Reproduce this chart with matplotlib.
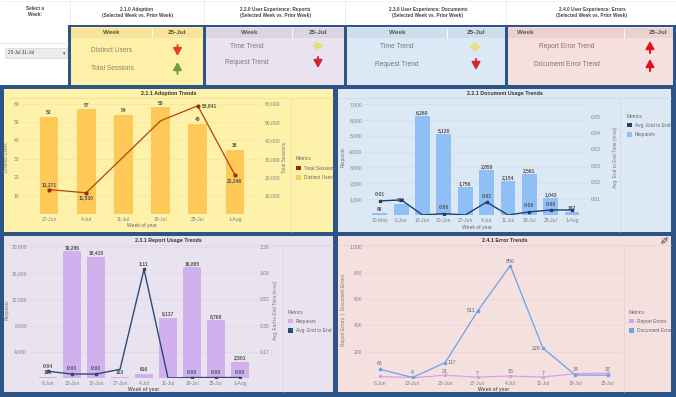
import matplotlib.pyplot as plt
from matplotlib.patches import Rectangle
from matplotlib.ticker import MultipleLocator, FuncFormatter

plt.rcParams['font.family'] = ['Liberation Sans', 'DejaVu Sans']

W, H = 676, 397

# 2.1.1 Adoption Trends
adopt_weeks = ['27-Jun', '4-Jul', '11-Jul', '18-Jul', '25-Jul', '1-Aug']
distinct_users = [53, 57, 54, 58, 49, 35]
total_sessions = [13271, 11530, 31100, 50700, 58841, 21246]
sessions_shown = [True, True, False, False, True, True]

# 2.2.1 Document Usage Trends (time in seconds)
doc_weeks = ['30-May', '6-Jun', '13-Jun', '20-Jun', '27-Jun', '4-Jul', '11-Jul',
             '18-Jul', '25-Jul', '1-Aug']
doc_requests = [98, 720, 6260, 5120, 1756, 2850, 2154, 2561, 1043, 182]
doc_time = [0.73, 0.78, 0.0, 0.07, 0.0, 0.67, 0.0, 0.16, 0.26, 0.26]
doc_time_shown = [True, False, False, True, False, True, False, True, True, False]

# 2.3.1 Report Usage Trends (time in seconds)
rep_weeks = ['6-Jun', '13-Jun', '20-Jun', '27-Jun', '4-Jul', '11-Jul', '18-Jul',
             '25-Jul', '1-Aug']
rep_requests = [180, 19286, 18415, 163, 616, 9137, 16865, 8768, 2501]
rep_time = [4.4, 2.6, 2.6, 5.7, 71.4, 0.0, 0.3, 0.3, 0.3]
rep_time_shown = [True, True, True, False, True, False, True, True, True]

# 2.4.1 Error Trends
err_weeks = ['6-Jun', '13-Jun', '20-Jun', '27-Jun', '4-Jul', '11-Jul', '18-Jul', '25-Jul']
report_errors = [12, 2, 21, 7, 15, 7, 34, 37]
document_errors = [66, 4, 117, 511, 856, 228, 22, 22]
report_shown = [False, False, True, True, True, True, True, True]
document_shown = [True, True, True, True, True, True, False, False]

NAVY = '#2d5487'
TXT = '#666666'


def mss(v, pos=None):
    s = int(v + 0.5)
    return f'{s // 60}:{s % 60:02d}'


fig = plt.figure(figsize=(W / 100, H / 100), dpi=100)
bg = fig.add_axes([0, 0, 1, 1])
bg.set_xlim(0, W)
bg.set_ylim(H, 0)
bg.axis('off')


def rect(x0, y0, x1, y1, fc, ec='none', lw=0, z=1):
    bg.add_patch(Rectangle((x0, y0), x1 - x0, y1 - y0, facecolor=fc,
                           edgecolor=ec, linewidth=lw, zorder=z))


def line(xs, ys, c, lw=0.5, z=2):
    bg.plot(xs, ys, color=c, lw=lw, zorder=z, solid_capstyle='butt')


def txt(x, y, s, size=3.6, c=TXT, **kw):
    bg.text(x, y, s, fontsize=size, color=c, va='center', zorder=5, **kw)


def arrow(x0, y0, x1, y1, c, lw=1.4, head='-|>,head_length=0.45,head_width=0.25'):
    bg.annotate('', xy=(x1, y1), xytext=(x0, y0), zorder=6,
                arrowprops=dict(arrowstyle=head, color=c, lw=lw, shrinkA=0, shrinkB=0))


def px_axes(x0, y0, x1, y1):
    return fig.add_axes([x0 / W, 1 - y1 / H, (x1 - x0) / W, (y1 - y0) / H])


def style(ax, gridc):
    ax.set_facecolor('none')
    for s in ax.spines.values():
        s.set_visible(False)
    ax.tick_params(length=0, labelsize=3.6, colors='#808080', pad=2)
    ax.grid(axis='y', color=gridc, lw=0.4)
    ax.set_axisbelow(True)


# ---- header row ----
for x in [70, 204, 345, 506]:
    line([x, x], [0, 24], '#e4e4e4')
line([0, 68], [43, 43], '#dddddd')
line([0, W], [1, 1], '#eeeeee')
headers = [(35, 'Select a', 'Week:'),
           (137, '2.1.0 Adoption', '(Selected Week vs. Prior Week)'),
           (275, '2.2.0 User Experience: Reports', '(Selected Week vs. Prior Week)'),
           (428, '2.3.0 User Experience: Documents', '(Selected Week vs. Prior Week)'),
           (592, '2.4.0 User Experience: Errors', '(Selected Week vs. Prior Week)')]
for x, a, b in headers:
    txt(x, 9, a, 3.4, '#444444', ha='center', fontweight='bold')
    txt(x, 15, b, 3.4, '#444444', ha='center', fontweight='bold')

rect(5, 48, 67, 58, '#ececec', '#cccccc', 0.4)
txt(8, 53, '25-Jul 31-Jul', 3.3, '#444444')
txt(64, 53.5, '▾', 3.3, '#444444', ha='center')

# ---- navy frames ----
rect(68, 25, W, 88, NAVY)
rect(0, 85, W, H, NAVY)

# ---- KPI boxes ----
kpis = [
    (71, 203, 152, '#fef0a8', '#f7e39a', '#8c8466',
     [('Distinct Users', 112, 50, 'down', '#e8401c'),
      ('Total Sessions', 112, 68, 'up', '#6e9b3c')], 'center'),
    (206, 344, 292, '#e8e3ef', '#dbd5e3', '#7a7a80',
     [('Time Trend', 247, 46, 'right', '#e6e07a'),
      ('Request Trend', 247, 62, 'down', '#d22630')], 'center'),
    (347, 505, 447, '#dce8f6', '#cfdcec', '#6f7a88',
     [('Time Trend', 397, 47, 'right', '#e6e07a'),
      ('Request Trend', 397, 64, 'down', '#d22630')], 'center'),
    (508, 673, 624, '#f6dfdf', '#edd1d1', '#8a6f70',
     [('Report Error Trend', 567, 47, 'up', '#e0101e'),
      ('Document Error Trend', 567, 65, 'up', '#e0101e')], 'left'),
]
for x0, x1, xd, fc, hc, tc, rows, mode in kpis:
    rect(x0, 27, x1, 85, fc, z=1)
    rect(x0, 28, x1, 38, hc, z=1)
    line([xd, xd], [28, 38], '#ffffff', 0.6)
    ax_ = (x1 + xd) / 2
    if mode == 'center':
        txt((x0 + xd) / 2, 33, 'Week', 4.6, '#555555', ha='center', fontweight='bold')
        txt(ax_, 33, '25-Jul', 4.6, '#555555', ha='center', fontweight='bold')
    else:
        txt(x0 + 9, 33, 'Week', 4.6, '#555555', ha='left', fontweight='bold')
        txt(x1 - 6, 33, '25-Jul', 4.6, '#555555', ha='right', fontweight='bold')
        ax_ = 650
    for label, lx, ly, d, c in rows:
        txt(lx, ly, label, 4.8, tc, ha='center')
        if d == 'down':
            arrow(ax_, ly - 5, ax_, ly + 6, c)
        elif d == 'up':
            arrow(ax_, ly + 6, ax_, ly - 6, c)
        else:
            arrow(ax_ - 5, ly, ax_ + 6, ly, c)

# ---- chart panels ----
panels = [
    (4, 89, 333, 232, '#fef1aa', '#f3e39a', '2.1.1 Adoption Trends', 291),
    (338, 89, 671, 232, '#dde8f5', '#cfdcec', '2.2.1 Document Usage Trends', 620),
    (4, 236, 333, 392, '#e9e3f0', '#dcd5e5', '2.3.1 Report Usage Trends', 283),
    (338, 236, 671, 392, '#f5e0e0', '#ead0d0', '2.4.1 Error Trends', 624),
]
for x0, y0, x1, y1, fc, lc, title, xdiv in panels:
    rect(x0, y0, x1, y1, fc)
    line([x0, x1], [y0 + 9, y0 + 9], lc, 0.6)
    line([xdiv, xdiv], [y0 + 9, y1], lc, 0.6)
    txt((x0 + x1) / 2, y0 + 4.5, title, 3.8, '#333333', ha='center', fontweight='bold')

# expand icon (no installed font has the glyph)
small = '-|>,head_length=0.25,head_width=0.15'
arrow(665, 240, 668, 237, '#888888', 0.5, small)
arrow(664, 241, 661, 244, '#888888', 0.5, small)


def legend(x, y, items):
    txt(x, y, 'Metrics', 3.5, '#666666')
    for i, (label, c) in enumerate(items):
        yy = y + 9 + i * 9.5
        rect(x, yy - 2.3, x + 4.6, yy + 2.3, c, z=5)
        txt(x + 8, yy, label, 3.5, '#666666')


def bar_labels(ax, vals, dy):
    for i, v in enumerate(vals):
        ax.text(i, v + dy, f'{v:,}', ha='center', va='bottom', fontsize=3.6,
                fontweight='bold', color='#555555')


# ---- 2.1.1 Adoption Trends ----
ax = px_axes(22, 100, 262, 214)
style(ax, '#f3e39a')
x = range(len(adopt_weeks))
ax.bar(x, distinct_users, width=0.5, color='#fec957', zorder=2)
bar_labels(ax, distinct_users, 0.8)
ax.set_xlim(-0.73, 5.73)
ax.set_ylim(0, 62)
ax.set_yticks([10, 20, 30, 40, 50, 60])
ax.set_xticks(list(x))
ax.set_xticklabels(adopt_weeks)
ax.axhline(0, color='#e8d890', lw=0.6)
ax2 = ax.twinx()
style(ax2, 'none')
ax2.grid(False)
ax2.plot(x, total_sessions, color='#b5420f', lw=0.9, zorder=3)
ax2.plot([i for i in x if sessions_shown[i]],
         [v for v, s in zip(total_sessions, sessions_shown) if s],
         'o', color='#9c2a08', ms=2, zorder=4)
ax2.set_ylim(0, 62000)
ax2.set_yticks([10000, 20000, 30000, 40000, 50000, 60000])
ax2.yaxis.set_major_formatter(FuncFormatter(lambda v, p: f'{int(v):,}'))
offs = {0: (0, 1200, 'center', 'bottom'), 1: (0, -1500, 'center', 'top'),
        4: (0.1, 0, 'left', 'center'), 5: (0, -1500, 'center', 'top')}
for i, (dx, dy, ha, va) in offs.items():
    if sessions_shown[i]:
        ax2.text(i + dx, total_sessions[i] + dy, f'{total_sessions[i]:,}', ha=ha,
                 va=va, fontsize=3.6, fontweight='bold', color='#555555')
txt(7, 157, 'Distinct Users', 3.4, '#777777', ha='center', rotation=90)
txt(285, 157, 'Total Sessions', 3.4, '#777777', ha='center', rotation=90)
txt(142, 226, 'Week of year', 3.6, '#666666', ha='center')
legend(296, 159, [('Total Sessions', '#9c2a08'), ('Distinct Users', '#fec957')])

# ---- 2.2.1 Document Usage Trends ----
ax = px_axes(365, 100, 588, 215)
style(ax, '#cfdcec')
x = range(len(doc_weeks))
ax.bar(x, doc_requests, width=0.7, color='#8ec0f5', zorder=2)
bar_labels(ax, doc_requests, 60)
ax.set_xlim(-0.7, 9.75)
ax.set_ylim(0, 7250)
ax.set_yticks(range(1000, 8000, 1000))
ax.yaxis.set_major_formatter(FuncFormatter(lambda v, p: f'{int(v):,}'))
ax.set_xticks(list(x))
ax.set_xticklabels(doc_weeks)
ax2 = ax.twinx()
style(ax2, 'none')
ax2.grid(False)
ax2.plot(x, doc_time, color='#1f3f6e', lw=1.0, zorder=3)
ax2.plot([i for i in x if doc_time[i] > 0], [v for v in doc_time if v > 0],
         's', color='#1f3f6e', ms=1.8, zorder=4)
ax2.set_ylim(0, 5.96)
ax2.set_yticks([0.85 * k for k in range(1, 7)])
ax2.yaxis.set_major_formatter(FuncFormatter(mss))
for i, v in enumerate(doc_time):
    if doc_time_shown[i]:
        ax2.text(i, v + 0.18, mss(v), ha='center', va='bottom', fontsize=3.6,
                 fontweight='bold', color='#555555')
txt(343, 157, 'Requests', 3.4, '#777777', ha='center', rotation=90)
txt(615, 157, 'Avg. End to End Time (m:ss)', 3.4, '#777777', ha='center', rotation=90)
txt(477, 227, 'Week of year', 3.6, '#666666', ha='center')
legend(627, 116, [('Avg. End to End ...', '#1f3f6e'), ('Requests', '#8ec0f5')])

# ---- 2.3.1 Report Usage Trends ----
ax = px_axes(30, 242, 258, 378)
style(ax, '#dcd5e5')
x = range(len(rep_weeks))
ax.bar(x, rep_requests, width=0.73, color='#d0b1ee', zorder=2)
bar_labels(ax, rep_requests, 250)
ax.set_xlim(-0.75, 8.75)
ax.set_ylim(0, 20724)
ax.set_yticks(range(4000, 24000, 4000))
ax.yaxis.set_major_formatter(FuncFormatter(lambda v, p: f'{int(v):,}'))
ax.set_xticks(list(x))
ax.set_xticklabels(rep_weeks)
ax2 = ax.twinx()
style(ax2, 'none')
ax2.grid(False)
ax2.tick_params(axis='y', pad=1.5)
ax2.plot(x, rep_time, color='#2c4a78', lw=1.0, zorder=3)
ax2.plot([i for i in x if rep_time_shown[i]],
         [v for v, s in zip(rep_time, rep_time_shown) if s],
         's', color='#2c4a78', ms=1.8, zorder=4)
ax2.set_ylim(0, 89.4)
ax2.set_yticks([17.25 * k for k in range(1, 6)])
ax2.yaxis.set_major_formatter(FuncFormatter(mss))
for i, v in enumerate(rep_time):
    if rep_time_shown[i]:
        ax2.text(i, v + 1.8, mss(v), ha='center', va='bottom', fontsize=3.6,
                 fontweight='bold', color='#555555')
txt(7, 310, 'Requests', 3.4, '#777777', ha='center', rotation=90)
txt(276, 310, 'Avg. End to End Time (m:ss)', 3.3, '#777777', ha='center', rotation=90)
txt(144, 390, 'Week of year', 3.6, '#666666', ha='center', fontweight='bold')
legend(288, 312, [('Requests', '#d0b1ee'), ('Avg. End to End ...', '#2c4a78')])

# ---- 2.4.1 Error Trends ----
ax = px_axes(365, 242, 623, 378)
style(ax, '#ead0d0')
x = range(len(err_weeks))
ax.plot(x, report_errors, color='#d8a0ea', lw=0.9, marker='s', ms=1.8, zorder=3)
ax.plot(x, document_errors, color='#6ea2e6', lw=0.9, marker='s', ms=1.8, zorder=3)
ax.set_xlim(-0.46, 7.46)
ax.set_ylim(0, 1036)
ax.set_yticks(range(200, 1200, 200))
ax.yaxis.set_major_formatter(FuncFormatter(lambda v, p: f'{int(v):,}'))
ax.set_xticks(list(x))
ax.set_xticklabels(err_weeks)
ax.axhline(0, color='#e0c4c4', lw=0.6)
doc_pos = {0: (0, 22, 'center', 'bottom'), 1: (0, 16, 'center', 'bottom'),
           2: (0.08, 0, 'left', 'center'), 3: (-0.08, 0, 'right', 'center'),
           4: (0, 16, 'center', 'bottom'), 5: (-0.08, 0, 'right', 'center')}
for i, (dx, dy, ha, va) in doc_pos.items():
    if document_shown[i]:
        ax.text(i + dx, document_errors[i] + dy, str(document_errors[i]), ha=ha,
                va=va, fontsize=3.8, color='#666666')
for i, v in enumerate(report_errors):
    if report_shown[i]:
        ax.text(i, v + 12, str(v), ha='center', va='bottom', fontsize=3.8,
                color='#666666')
txt(343, 310, 'Report Errors  |  Document Errors', 3.4, '#777777', ha='center',
    rotation=90)
txt(494, 390, 'Week of year', 3.6, '#666666', ha='center', fontweight='bold')
legend(629, 312, [('Report Errors', '#d8a0ea'), ('Document Errors', '#6ea2e6')])
bg.set_zorder(0)

fig.savefig('out.png', dpi=100)
